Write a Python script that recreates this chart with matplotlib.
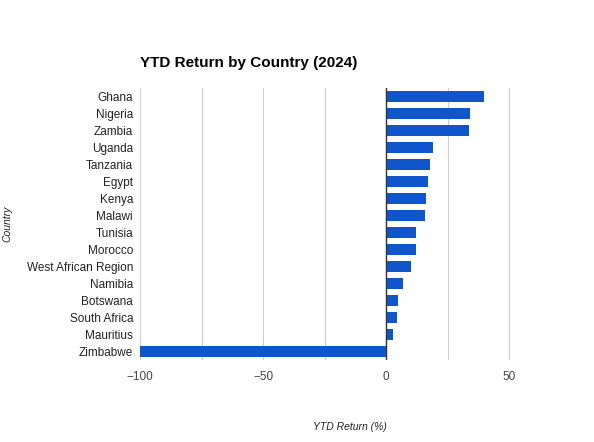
import matplotlib
matplotlib.use("Agg")
import matplotlib.pyplot as plt

countries = ["Ghana","Nigeria","Zambia","Uganda","Tanzania","Egypt","Kenya","Malawi",
             "Tunisia","Morocco","West African Region","Namibia","Botswana","South Africa",
             "Mauritius","Zimbabwe"]
returns = [40, 34, 33.7, 19, 18, 17, 16.3, 16, 12, 12, 10.3, 7, 5, 4.6, 3, -100]

plt.rcParams['font.family'] = ['Liberation Sans', 'DejaVu Sans']
fig = plt.figure(figsize=(5.94, 4.42), dpi=100)
ax = fig.add_axes([140/594, 1-360/442, 420/594, 272/442])
y = list(range(len(countries)))
ax.barh(y, returns, height=0.7, color="#0f56cc", zorder=3)
ax.set_yticks(y)
ax.set_yticklabels(countries, fontsize=8.5, color="#222222")
ax.set_ylim(len(countries)-0.5, -0.5)
ax.set_xlim(-100, 70.7)
ax.set_xticks([-100, -50, 0, 50])
ax.set_xticks([-75, -25, 25], minor=True)
ax.tick_params(axis='x', labelsize=8.5, colors="#444444", length=0, which='both', pad=8)
ax.tick_params(axis='y', length=0, pad=5)
ax.grid(axis='x', which='both', color="#cccccc", linewidth=0.8, zorder=0)
ax.axvline(0, color="#333333", linewidth=1, zorder=4)
for s in ax.spines.values():
    s.set_visible(False)
ax.set_xlabel("YTD Return (%)", fontsize=7.5, style='italic', color="#222222", labelpad=28)
ax.set_ylabel("Country", fontsize=7.5, style='italic', color="#222222", labelpad=10)
fig.text(140/594, 1-63/442, "YTD Return by Country (2024)", fontsize=11, fontweight='bold', va='center')
fig.savefig("out.png", dpi=100)
